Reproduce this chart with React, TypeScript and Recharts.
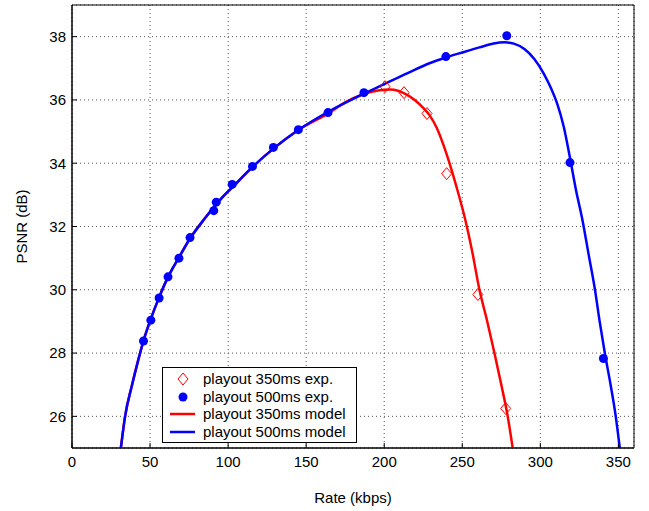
import {
    ComposedChart,
    Line,
    Scatter,
    XAxis,
    YAxis,
    CartesianGrid,
    Legend,
    ReferenceArea,
} from 'recharts';

// ============================================
// DATA
// ============================================
const xTicks = [0, 50, 100, 150, 200, 250, 300, 350];
const yTicks = [26, 28, 30, 32, 34, 36, 38];

const exp350Rate = [200.5, 212.7, 227.4, 240, 260, 277.8];
const exp350Psnr = [36.42, 36.23, 35.57, 33.67, 29.85, 26.25];

const exp500Rate = [45.8, 50.5, 55.8, 61.5, 68.5, 75.6, 90.8, 92.4, 102.6, 115.6, 129, 145, 164, 187, 239.5, 278.5, 319, 340.4];
const exp500Psnr = [28.38, 29.04, 29.74, 30.41, 31.0, 31.65, 32.5, 32.77, 33.33, 33.9, 34.5, 35.06, 35.6, 36.23, 37.37, 38.03, 34.02, 27.83];

const model500Rate = [31.3, 34, 38.5, 42, 46, 50.5, 55.8, 61.5, 68.5, 75.6, 85, 95, 105, 115, 130, 145, 165, 185, 200, 215, 229, 240, 250, 261, 270, 277, 283, 290, 296, 302, 307, 311, 315, 318.5, 322.8, 327, 331, 335, 338, 341.3, 345, 348.3, 350.9];
const model500Psnr = [25, 26, 27, 27.7, 28.42, 29.08, 29.76, 30.4, 31.02, 31.62, 32.25, 32.85, 33.35, 33.85, 34.5, 35.05, 35.65, 36.15, 36.5, 36.85, 37.16, 37.35, 37.5, 37.66, 37.78, 37.82, 37.78, 37.6, 37.3, 36.85, 36.35, 35.85, 35.15, 34.3, 33.16, 32.2, 31.1, 30.0, 29.0, 28.0, 27.0, 26.0, 25.0];

const model350Rate = [31.3, 34, 38.5, 42, 46, 50.5, 55.8, 61.5, 68.5, 75.6, 85, 95, 105, 115, 130, 145, 165, 175, 186.5, 196, 203.7, 214.4, 225, 229, 233.6, 239.8, 246.2, 252, 256, 261, 266, 270.6, 275, 279.1, 282.3];
const model350Psnr = [25, 26, 27, 27.7, 28.42, 29.08, 29.76, 30.4, 31.02, 31.62, 32.25, 32.85, 33.35, 33.85, 34.5, 35.05, 35.6, 35.92, 36.18, 36.3, 36.33, 36.17, 35.75, 35.52, 35.12, 34.31, 33.27, 32.2, 31.3, 30.0, 29.0, 28.0, 27.0, 26.0, 25.0];

const zip = (xs: number[], ys: number[]) => xs.map((x, i) => ({ x, y: ys[i] }));

const RED = '#ff0000';
const BLUE = '#0000ff';
const FONT = '"Liberation Sans", Arial, Helvetica, sans-serif';

const Diamond = (props: any) => {
    const { cx, cy } = props;
    if (cx == null || cy == null) return null;
    return (
        <path
            d={`M${cx},${cy - 6} L${cx + 5},${cy} L${cx},${cy + 6} L${cx - 5},${cy} Z`}
            fill="none"
            stroke={RED}
            strokeWidth={1}
        />
    );
};

const Dot = (props: any) => {
    const { cx, cy } = props;
    if (cx == null || cy == null) return null;
    return <circle cx={cx} cy={cy} r={4.5} fill={BLUE} />;
};

const legendRows = [
    { label: 'playout 350ms exp.', kind: 'diamond' },
    { label: 'playout 500ms exp.', kind: 'dot' },
    { label: 'playout 350ms model', kind: 'redLine' },
    { label: 'playout 500ms model', kind: 'blueLine' },
];

const LegendBox = () => (
    <div
        style={{
            width: 195,
            boxSizing: 'border-box',
            border: '1px solid #000',
            background: '#fff',
            padding: '2px 0',
            fontFamily: FONT,
            fontSize: 15,
            lineHeight: '17.5px',
            color: '#000',
        }}
    >
        {legendRows.map((r) => (
            <div key={r.label} style={{ display: 'flex', alignItems: 'center', height: 17.5 }}>
                <svg width={40} height={17.5} style={{ flex: 'none' }}>
                    {r.kind === 'diamond' && (
                        <path d="M20,3 L25,9 L20,15 L15,9 Z" fill="none" stroke={RED} strokeWidth={1} />
                    )}
                    {r.kind === 'dot' && <circle cx={20} cy={9} r={4.5} fill={BLUE} />}
                    {r.kind === 'redLine' && <line x1={7} x2={32} y1={9} y2={9} stroke={RED} strokeWidth={2.5} />}
                    {r.kind === 'blueLine' && <line x1={7} x2={32} y1={9} y2={9} stroke={BLUE} strokeWidth={2.5} />}
                </svg>
                <span>{r.label}</span>
            </div>
        ))}
    </div>
);

export default function App() {
    const tickStyle = { fill: '#000', fontSize: 15, fontFamily: FONT };
    return (
        <div style={{ position: 'absolute', left: 0, top: 0, width: 649, height: 511, background: '#fff' }}>
            <ComposedChart width={649} height={511} margin={{ top: 5, right: 15, bottom: 0, left: 0 }}>
                <CartesianGrid stroke="#555" strokeDasharray="1 3" strokeWidth={1} />
                <XAxis
                    type="number"
                    dataKey="x"
                    domain={[0, 360]}
                    ticks={xTicks}
                    allowDataOverflow
                    height={63}
                    stroke="#000"
                    tickSize={-5}
                    tickMargin={13}
                    tick={tickStyle}
                    label={{ value: 'Rate (kbps)', position: 'insideBottom', offset: 8, style: { fill: '#000', fontSize: 15, fontFamily: FONT } }}
                />
                <XAxis xAxisId="top" orientation="top" type="number" domain={[0, 360]} ticks={xTicks} height={0} tick={false} stroke="#000" tickSize={-5} />
                <YAxis
                    type="number"
                    dataKey="y"
                    domain={[25, 39]}
                    ticks={yTicks}
                    allowDataOverflow
                    width={72}
                    stroke="#000"
                    tickSize={-5}
                    tickMargin={11}
                    tick={tickStyle}
                    label={{ value: 'PSNR (dB)', angle: -90, position: 'insideLeft', offset: 22, style: { textAnchor: 'middle', fill: '#000', fontSize: 15, fontFamily: FONT } }}
                />
                <YAxis yAxisId="right" orientation="right" type="number" domain={[25, 39]} ticks={yTicks} width={0} tick={false} stroke="#000" tickSize={-5} />
                <ReferenceArea x1={0} x2={360} y1={25} y2={39} fill="none" stroke="#000" strokeWidth={1} ifOverflow="visible" />
                <Line data={zip(model350Rate, model350Psnr)} dataKey="y" type="monotone" stroke={RED} strokeWidth={2.5} dot={false} isAnimationActive={false} />
                <Line data={zip(model500Rate, model500Psnr)} dataKey="y" type="monotone" stroke={BLUE} strokeWidth={2.5} dot={false} isAnimationActive={false} />
                <Scatter data={zip(exp350Rate, exp350Psnr)} dataKey="y" shape={Diamond} isAnimationActive={false} />
                <Scatter data={zip(exp500Rate, exp500Psnr)} dataKey="y" shape={Dot} isAnimationActive={false} />
                <Legend layout="vertical" align="center" verticalAlign="middle" content={() => <LegendBox />} wrapperStyle={{ left: 162, top: 367, width: 195 }} />
            </ComposedChart>
        </div>
    );
}
